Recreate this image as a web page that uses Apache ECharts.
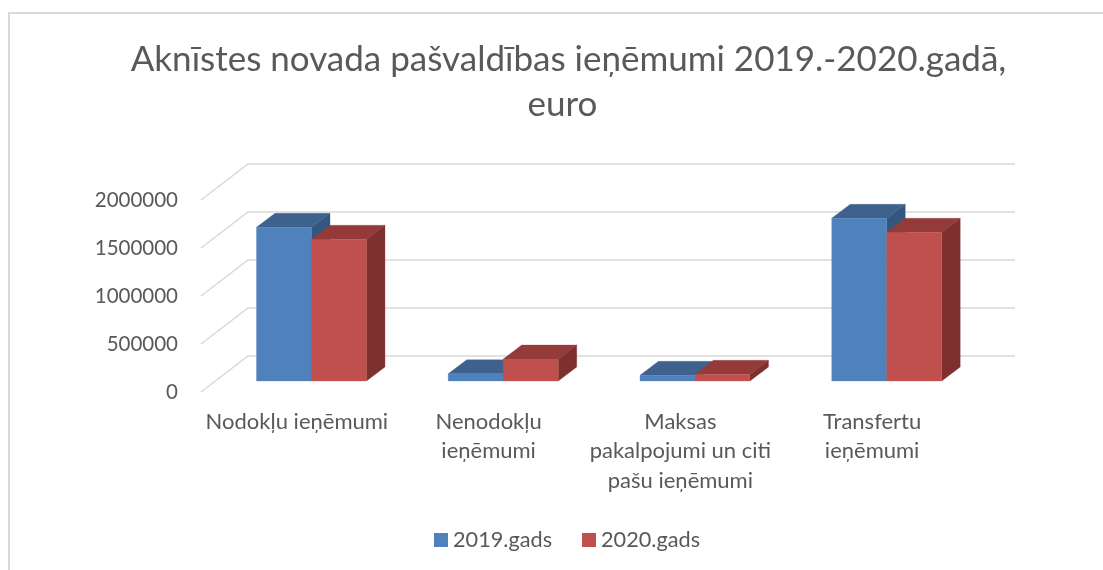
<!DOCTYPE html>
<html>
<head>
<meta charset="utf-8">
<style>html,body{margin:0;padding:0;background:#fff}#c{width:1103px;height:570px}</style>
<script src="https://cdn.jsdelivr.net/npm/echarts@6/dist/echarts.min.js"></script>
</head>
<body>
<div id="c"></div>
<script>
const titleLines = ['Aknīstes novada pašvaldības ieņēmumi 2019.-2020.gadā,', 'euro'];
const categories = ['Nodokļu ieņēmumi', 'Nenodokļu\nieņēmumi', 'Maksas\npakalpojumi un citi\npašu ieņēmumi', 'Transfertu\nieņēmumi'];
const seriesNames = ['2019.gads', '2020.gads'];
const values2019 = [1601000, 76000, 59000, 1695000];
const values2020 = [1476000, 229000, 70000, 1549000];
const axisTicks = [0, 500000, 1000000, 1500000, 2000000];

const wallDx = 47, wallDy = -36;
const barOffX = 14.6, barOffY = -11;
const depthX = 18.5, depthY = -14;
const barRatio = 55 / 191.75;

function barItem(colors, sign) {
  return function (params, api) {
    const idx = api.value(0);
    const top = api.coord([idx, api.value(1)]);
    const base = api.coord([idx, 0]);
    const w = api.size([1, 0])[0] * barRatio;
    const xc = top[0] + barOffX;
    const x0 = sign < 0 ? xc - w : xc;
    const x1 = x0 + w;
    const yt = top[1] + barOffY;
    const yb = base[1] + barOffY;
    const poly = (pts, fill) => ({
      type: 'polygon',
      shape: { points: pts },
      style: { fill: fill, stroke: fill, lineWidth: 0.3 }
    });
    return {
      type: 'group',
      children: [
        poly([[x0, yt], [x1, yt], [x1 + depthX, yt + depthY], [x0 + depthX, yt + depthY]], colors.top),
        poly([[x1, yt], [x1 + depthX, yt + depthY], [x1 + depthX, yb + depthY], [x1, yb]], colors.side),
        poly([[x0, yt], [x1, yt], [x1, yb], [x0, yb]], colors.front)
      ]
    };
  };
}

function gridItem(params, api) {
  const y = api.coord([0, api.value(1)])[1];
  const cs = params.coordSys;
  return {
    type: 'polyline',
    shape: { points: [[cs.x, y], [cs.x + wallDx, y + wallDy], [cs.x + cs.width + wallDx, y + wallDy]] },
    style: { fill: 'none', stroke: '#D9D9D9', lineWidth: 1.5 },
    silent: true
  };
}

const titleStyle = { fontFamily: 'Lato', fontSize: 35, fontWeight: 'normal', color: '#595959' };
const chart = echarts.init(document.getElementById('c'), null, { renderer: 'canvas' });
chart.setOption({
  animation: false,
  backgroundColor: '#fff',
  title: [
    { text: titleLines[0], left: 563.5, top: 37, textAlign: 'center', textStyle: titleStyle },
    { text: titleLines[1], left: 557.5, top: 82, textAlign: 'center', textStyle: titleStyle }
  ],
  legend: {
    left: 429, top: 524, itemWidth: 14, itemHeight: 14, itemGap: 30,
    icon: 'rect',
    data: seriesNames,
    textStyle: { fontFamily: 'Lato', fontSize: 21.7, color: '#595959' }
  },
  graphic: [{
    type: 'polyline', silent: true, z: 0,
    shape: { points: [[9, 570], [9, 13], [1103, 13]] },
    style: { fill: 'none', stroke: '#D9D9D9', lineWidth: 2 }
  }],
  grid: { left: 201, top: 200, width: 767, height: 192 },
  xAxis: {
    type: 'category', data: categories,
    axisLine: { show: false }, axisTick: { show: false }, splitLine: { show: false },
    axisLabel: { interval: 0, margin: 15, fontFamily: 'Lato', fontSize: 22, color: '#595959', lineHeight: 29.5 }
  },
  yAxis: {
    type: 'value', min: 0, max: 2000000, interval: 500000,
    axisLine: { show: false }, axisTick: { show: false }, splitLine: { show: false },
    axisLabel: { margin: 23, fontFamily: 'Lato', fontSize: 20.5, color: '#595959', formatter: v => String(v) }
  },
  series: [
    { type: 'custom', name: '__grid', silent: true, z: 1, renderItem: gridItem, encode: { x: 0, y: 1 },
      data: axisTicks.map(v => [0, v]) },
    { type: 'custom', name: seriesNames[0], z: 2, itemStyle: { color: '#4F81BD' },
      renderItem: barItem({ front: '#4F81BD', top: '#3E618D', side: '#34567F' }, -1),
      encode: { x: 0, y: 1 }, data: values2019.map((v, i) => [i, v]) },
    { type: 'custom', name: seriesNames[1], z: 3, itemStyle: { color: '#C0504D' },
      renderItem: barItem({ front: '#C0504D', top: '#943B39', side: '#7E302E' }, 1),
      encode: { x: 0, y: 1 }, data: values2020.map((v, i) => [i, v]) }
  ]
});
</script>
</body>
</html>
